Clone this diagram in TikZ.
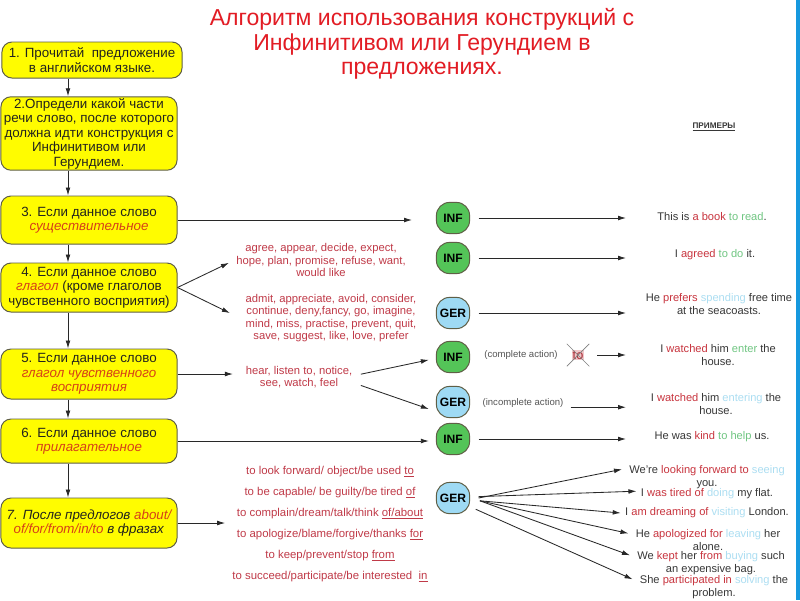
\documentclass[tikz,border=0pt]{standalone}
\usepackage{fontspec}
\setmainfont{Liberation Sans}
\usetikzlibrary{arrows.meta,positioning}

\definecolor{titlered}{RGB}{226,28,36}
\definecolor{boxyellow}{RGB}{255,252,0}
\definecolor{boxline}{RGB}{95,95,70}
\definecolor{boxtext}{RGB}{35,35,30}
\definecolor{boxred}{RGB}{214,64,24}
\definecolor{listred}{RGB}{192,58,72}
\definecolor{infgreen}{RGB}{84,196,88}
\definecolor{gerblue}{RGB}{158,218,244}
\definecolor{arrline}{RGB}{40,40,40}
\definecolor{exgray}{RGB}{55,55,55}
\definecolor{exred}{RGB}{200,52,62}
\definecolor{exgreen}{RGB}{112,198,130}
\definecolor{exblue}{RGB}{172,222,242}
\definecolor{notegray}{RGB}{85,85,85}
\definecolor{edgeblue}{RGB}{22,152,222}

\newcommand{\rw}[1]{\textcolor{exred}{#1}}
\newcommand{\gw}[1]{\textcolor{exgreen}{#1}}
\newcommand{\bw}[1]{\textcolor{exblue}{#1}}
\newcommand{\hw}[1]{\textcolor{boxred}{#1}}

\begin{document}
\begin{tikzpicture}[
    x=0.025cm, y=-0.025cm,
    stepbox/.style={rectangle, draw=boxline, line width=0.7pt, fill=boxyellow, rounded corners=0.25cm, align=center, minimum width=4.4cm, inner sep=1pt, text=boxtext, font=\fontsize{9.5}{10.3}\selectfont},
    infbox/.style={rectangle, draw=boxline, line width=0.7pt, fill=infgreen, rounded corners=0.33cm, minimum width=0.83cm, minimum height=0.78cm, inner sep=0pt, text=black, font=\bfseries\fontsize{8.6}{10}\selectfont},
    gerbox/.style={infbox, fill=gerblue},
    wordlist/.style={align=center, inner sep=0pt, text=listred, font=\fontsize{8}{8.9}\selectfont},
    example/.style={align=center, inner sep=0pt, text=exgray, font=\fontsize{7.9}{9.2}\selectfont},
    note/.style={inner sep=0pt, text=notegray, font=\fontsize{6.8}{8}\selectfont},
    arr/.style={-{Latex[length=2mm,width=1.2mm]}, draw=arrline, line width=0.6pt}
]
    \fill[white] (0,0) rectangle (800,600);
    \useasboundingbox (0,0) rectangle (800,600);
    \fill[edgeblue] (796,0) rectangle (800,600);

    % Title
    \node[align=center, text=titlered, font=\fontsize{16.4}{17.4}\selectfont] (title) at (422,44)
        {Алгоритм использования конструкций с\\Инфинитивом или Герундием в\\предложениях.};
    \node[inner sep=0pt, text=exgray, font=\bfseries\fontsize{5.8}{7}\selectfont] (examples) at (714,127) {\underline{ПРИМЕРЫ}};

    % Steps
    \node[stepbox, minimum width=4.5cm, minimum height=0.9cm] (b1) at (92,60) {1. Прочитай\ \ предложение\\в английском языке.};
    \node[stepbox, minimum height=1.825cm] (b2) at (89,133.5) {2.Определи какой части\\речи слово, после которого\\должна идти конструкция с\\Инфинитивом или\\Герундием.};
    \node[stepbox, minimum height=1.2cm] (b3) at (89,220) {3. Если данное слово\\\textit{\hw{существительное}}};
    \node[stepbox, minimum height=1.225cm] (b4) at (89,287.5) {4. Если данное слово\\\textit{\hw{глагол}} (кроме глаголов\\чувственного восприятия)};
    \node[stepbox, minimum height=1.25cm] (b5) at (89,374) {5. Если данное слово\\\textit{\hw{глагол чувственного}}\\\textit{\hw{восприятия}}};
    \node[stepbox, minimum height=1.1cm] (b6) at (89,441) {6. Если данное слово\\\textit{\hw{прилагательное}}};
    \node[stepbox, minimum height=1.25cm] (b7) at (89,523) {\textit{7. После предлогов \hw{about/}}\\\textit{\hw{of/for/from/in/to} в фразах}};

    \coordinate (spine) at (68,0);
    \foreach \a/\b in {b1/b2, b2/b3, b3/b4, b4/b5, b5/b6, b6/b7}
        \draw[arr] (\a.south -| spine) -- (\b.north -| spine);

    % INF / GER
    \node[infbox] (inf1) at (453,218) {INF};
    \node[infbox] (inf2) at (453,258) {INF};
    \node[gerbox] (ger1) at (453,313) {GER};
    \node[infbox] (inf3) at (453,357) {INF};
    \node[gerbox] (ger2) at (453,402) {GER};
    \node[infbox] (inf4) at (453,439) {INF};
    \node[gerbox] (ger3) at (453,498) {GER};

    % Word lists
    \node[wordlist] (lista) at (321,260) {agree, appear, decide, expect,\\hope, plan, promise, refuse, want,\\would like};
    \node[wordlist] (listb) at (331,318) {admit, appreciate, avoid, consider,\\continue, deny,fancy, go, imagine,\\mind, miss, practise, prevent, quit,\\save, suggest, like, love, prefer};
    \node[wordlist] (listc) at (299,377) {hear, listen to, notice,\\see, watch, feel};
    \node[wordlist, font=\fontsize{8.1}{15}\selectfont] (listd) at (330,524)
        {to look forward/ object/be used \underline{to}\\
         to be capable/ be guilty/be tired \underline{of}\\
         to complain/dream/talk/think \underline{of/about}\\
         to apologize/blame/forgive/thanks \underline{for}\\
         to keep/prevent/stop \underline{from}\\
         to succeed/participate/be interested\ \ \underline{in}};

    \node[note] (comp) at (521,355) {(complete action)};
    \node[note] (incomp) at (523,403) {(incomplete action)};
    \node[inner sep=0.6pt, fill=exred!28, text=exred!85!black, font=\fontsize{9}{10}\selectfont] (noto) at (578,355) {to};
    \draw[gray, line width=0.5pt] ([shift={(-8pt,8pt)}]noto.center) -- ([shift={(8pt,-8pt)}]noto.center)
        ([shift={(8pt,8pt)}]noto.center) -- ([shift={(-8pt,-8pt)}]noto.center);

    % Examples
    \node[example] (ex1) at (712,217) {This is \rw{a book} \gw{to read}.};
    \node[example] (ex2) at (715,255) {I \rw{agreed} \gw{to do} it.};
    \node[example] (ex3) at (719,304) {He \rw{prefers} \bw{spending} free time\\at the seacoasts.};
    \node[example] (ex4) at (718,355) {I \rw{watched} him \gw{enter} the\\house.};
    \node[example] (ex5) at (716,404) {I \rw{watched} him \bw{entering} the\\house.};
    \node[example] (ex6) at (712,437) {He was \rw{kind} \gw{to help} us.};
    \begin{scope}[every node/.append style={font=\fontsize{7.6}{9}\selectfont}]
    \node[example] (g1) at (707,477) {We're \rw{looking forward to} \bw{seeing}\\you.};
    \node[example] (g2) at (707,494) {I \rw{was tired of} \bw{doing} my flat.};
    \node[example] (g3) at (707,513) {I \rw{am dreaming of} \bw{visiting} London.};
    \node[example] (g4) at (708,540) {He \rw{apologized for} \bw{leaving} her\\alone.};
    \node[example] (g5) at (711,563) {We \rw{kept} her \rw{from} \bw{buying} such\\an expensive bag.};
    \node[example] (g6) at (714,587) {She \rw{participated in} \bw{solving} the\\problem.};
    \end{scope}

    % Connectors
    \coordinate (exl) at (626,0);
    \draw[arr, shorten >=17pt] (b3.east) -- (b3.east -| inf1.west);
    \draw[arr] (b4.east) -- ([xshift=-5pt,yshift=-2pt]lista.west);
    \draw[arr] (b4.east) -- ([xshift=-11pt,yshift=3.5pt]listb.west);
    \draw[arr, shorten >=9pt] (b5.east) -- (b5.east -| listc.west);
    \draw[arr, shorten >=5pt] (b6.east) -- (b6.east -| inf4.west);
    \draw[arr, shorten >=5pt] (b7.east) -- (b7.east -| listd.west);

    \draw[arr] ([xshift=6pt,yshift=2pt]listc.east) -- ([xshift=-5pt,yshift=-2pt]inf3.west);
    \draw[arr] ([xshift=6pt,yshift=-6pt]listc.east) -- ([xshift=-5pt,yshift=-5pt]ger2.west);

    \foreach \n in {inf1, inf2, ger1, inf4}
        \draw[arr, shorten <=6pt] (\n.east) -- (\n.east -| exl);
    \draw[arr, shorten <=9pt] (noto.east) -- (noto.east -| exl);
    \draw[arr, shorten <=5pt] ([yshift=-3pt]incomp.east) -- ([yshift=-3pt]incomp.east -| exl);

    \draw[arr] ([xshift=6pt]ger3.east) -- ([xshift=-5pt,yshift=-3pt]g1.north west);
    \draw[arr] ([xshift=6pt,yshift=1pt]ger3.east) -- ([xshift=-3pt,yshift=2pt]g2.west);
    \draw[arr] ([xshift=7pt,yshift=-2pt]ger3.east) -- ([xshift=-3pt]g3.west);
    \draw[arr] ([xshift=7pt,yshift=-2pt]ger3.east) -- ([xshift=-5pt,yshift=-3pt]g4.north west);
    \draw[arr] ([xshift=7pt,yshift=-2pt]ger3.east) -- ([xshift=-5pt,yshift=-3pt]g5.north west);
    \draw[arr] ([xshift=4pt,yshift=-8pt]ger3.east) -- ([xshift=-5pt,yshift=-3pt]g6.north west);
\end{tikzpicture}
\end{document}
